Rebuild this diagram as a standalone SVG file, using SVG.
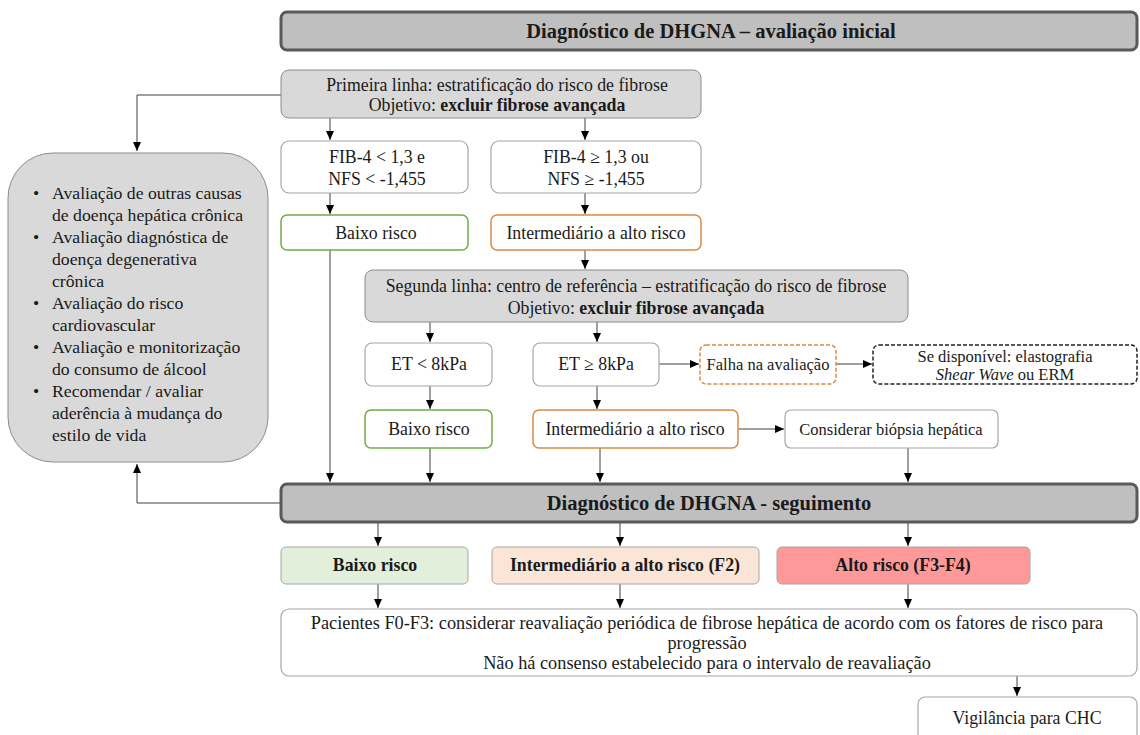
<svg xmlns="http://www.w3.org/2000/svg" width="1140" height="735" viewBox="0 0 1140 735" font-family="'Liberation Serif', serif">
<defs>
<marker id="ah" markerWidth="10" markerHeight="10" refX="9" refY="5" orient="auto" markerUnits="userSpaceOnUse">
<path d="M0,1 L9,5 L0,9 Z" fill="#000"/>
</marker>
<style>
text{font-family:'Liberation Serif',serif;font-size:17.8px;fill:#1a1a1a;text-anchor:middle}
.hd{font-weight:bold;font-size:20.5px}
.b{font-weight:bold}
.lt{text-anchor:start;font-size:17.7px}
.sm{font-size:16.5px}
.pc{font-size:18.3px}
.hdr{fill:#bfbfbf;stroke:#595959;stroke-width:3}
.gr{fill:#d9d9d9;stroke:#8c8c8c;stroke-width:1}
.wh{fill:#fff;stroke:#a6a6a6;stroke-width:1.2}
.gn{fill:#fff;stroke:#70ad47;stroke-width:1.5}
.or{fill:#fff;stroke:#d98a45;stroke-width:1.5}
.ord{fill:#fff;stroke:#d98a45;stroke-width:1.5;stroke-dasharray:4 2}
.bkd{fill:#fff;stroke:#222;stroke-width:1.5;stroke-dasharray:4 2}
.c{fill:none;stroke:#404040;stroke-width:1}
</style>
</defs>

<g id="connectors">
<path class="c" d="M281,95 H137 V151" marker-end="url(#ah)"/>
<path class="c" d="M330,118 V140" marker-end="url(#ah)"/>
<path class="c" d="M585,118 V140" marker-end="url(#ah)"/>
<path class="c" d="M330,193 V214" marker-end="url(#ah)"/>
<path class="c" d="M585,193 V214" marker-end="url(#ah)"/>
<path class="c" d="M330,250 V482" marker-end="url(#ah)"/>
<path class="c" d="M585,250 V269" marker-end="url(#ah)"/>
<path class="c" d="M430,322 V342" marker-end="url(#ah)"/>
<path class="c" d="M597,322 V342" marker-end="url(#ah)"/>
<path class="c" d="M659,364 H699" marker-end="url(#ah)"/>
<path class="c" d="M836,364 H872" marker-end="url(#ah)"/>
<path class="c" d="M430,386 V409" marker-end="url(#ah)"/>
<path class="c" d="M597,386 V409" marker-end="url(#ah)"/>
<path class="c" d="M738,429 H784" marker-end="url(#ah)"/>
<path class="c" d="M430,448 V482" marker-end="url(#ah)"/>
<path class="c" d="M600,448 V482" marker-end="url(#ah)"/>
<path class="c" d="M908,448 V482" marker-end="url(#ah)"/>
<path class="c" d="M281,503 H137 V464" marker-end="url(#ah)"/>
<path class="c" d="M378,522 V546" marker-end="url(#ah)"/>
<path class="c" d="M620,522 V546" marker-end="url(#ah)"/>
<path class="c" d="M908,522 V546" marker-end="url(#ah)"/>
<path class="c" d="M378,584 V608" marker-end="url(#ah)"/>
<path class="c" d="M620,584 V608" marker-end="url(#ah)"/>
<path class="c" d="M908,584 V608" marker-end="url(#ah)"/>
<path class="c" d="M1017,676 V696" marker-end="url(#ah)"/>
</g>

<g id="header1">
<rect class="hdr" x="281" y="12" width="856" height="38" rx="6"/>
<text class="hd" x="711" y="38">Diagnóstico de DHGNA – avaliação inicial</text>
</g>

<g id="primeira">
<rect class="gr" x="281" y="70" width="420" height="48" rx="8"/>
<text x="497" y="91">Primeira linha: estratificação do risco de fibrose</text>
<text x="497" y="111">Objetivo: <tspan class="b">excluir fibrose avançada</tspan></text>
</g>

<g id="left-box">
<rect class="gr" x="8" y="153" width="260" height="309" rx="45"/>
<text class="lt" x="33" y="199">•</text><text class="lt" x="52" y="199">Avaliação de outras causas</text>
<text class="lt" x="52" y="221">de doença hepática crônica</text>
<text class="lt" x="33" y="243">•</text><text class="lt" x="52" y="243">Avaliação diagnóstica de</text>
<text class="lt" x="52" y="265">doença degenerativa</text>
<text class="lt" x="52" y="287">crônica</text>
<text class="lt" x="33" y="309">•</text><text class="lt" x="52" y="309">Avaliação do risco</text>
<text class="lt" x="52" y="331">cardiovascular</text>
<text class="lt" x="33" y="353">•</text><text class="lt" x="52" y="353">Avaliação e monitorização</text>
<text class="lt" x="52" y="375">do consumo de álcool</text>
<text class="lt" x="33" y="397">•</text><text class="lt" x="52" y="397">Recomendar / avaliar</text>
<text class="lt" x="52" y="419">aderência à mudança do</text>
<text class="lt" x="52" y="441">estilo de vida</text>
</g>

<g id="fib-low">
<rect class="wh" x="281" y="141" width="187" height="52" rx="8"/>
<text x="377" y="163">FIB-4 &lt; 1,3 e</text>
<text x="377" y="185">NFS &lt; -1,455</text>
</g>
<g id="fib-high">
<rect class="wh" x="491" y="141" width="210" height="52" rx="8"/>
<text x="596" y="163">FIB-4 ≥ 1,3 ou</text>
<text x="596" y="185">NFS ≥ -1,455</text>
</g>

<g id="baixo1">
<rect class="gn" x="281" y="215" width="187" height="35" rx="6"/>
<text x="376" y="239">Baixo risco</text>
</g>
<g id="inter1">
<rect class="or" x="491" y="215" width="210" height="35" rx="6"/>
<text x="596" y="239">Intermediário a alto risco</text>
</g>

<g id="segunda">
<rect class="gr" x="365" y="270" width="543" height="52" rx="8"/>
<text x="636" y="292">Segunda linha: centro de referência – estratificação do risco de fibrose</text>
<text x="636" y="314">Objetivo: <tspan class="b">excluir fibrose avançada</tspan></text>
</g>

<g id="et-low">
<rect class="wh" x="365" y="343" width="127" height="43" rx="7"/>
<text x="429" y="370">ET &lt; 8kPa</text>
</g>
<g id="et-high">
<rect class="wh" x="533" y="343" width="126" height="43" rx="7"/>
<text x="596" y="370">ET ≥ 8kPa</text>
</g>
<g id="falha">
<rect class="ord" x="700" y="345" width="136" height="39" rx="6"/>
<text class="sm" x="768" y="370">Falha na avaliação</text>
</g>
<g id="shear">
<rect class="bkd" x="873" y="345" width="264" height="39" rx="6"/>
<text class="sm" x="1005" y="362">Se disponível: elastografia</text>
<text class="sm" x="1005" y="380"><tspan font-style="italic">Shear Wave</tspan> ou ERM</text>
</g>

<g id="baixo2">
<rect class="gn" x="365" y="410" width="127" height="38" rx="6"/>
<text x="429" y="435">Baixo risco</text>
</g>
<g id="inter2">
<rect class="or" x="533" y="410" width="205" height="38" rx="6"/>
<text x="635" y="435">Intermediário a alto risco</text>
</g>
<g id="biopsia">
<rect class="wh" x="785" y="410" width="213" height="38" rx="6"/>
<text class="sm" x="891" y="435">Considerar biópsia hepática</text>
</g>

<g id="header2">
<rect class="hdr" x="281" y="484" width="856" height="38" rx="6"/>
<text class="hd" x="709" y="510">Diagnóstico de DHGNA - seguimento</text>
</g>

<g id="baixo3">
<rect x="281" y="547" width="187" height="37" rx="5" fill="#e2efda" stroke="#a6a6a6"/>
<text class="b" x="375" y="571">Baixo risco</text>
</g>
<g id="inter3">
<rect x="492" y="547" width="267" height="37" rx="5" fill="#fbe5d6" stroke="#a6a6a6"/>
<text class="b" x="625" y="571">Intermediário a alto risco (F2)</text>
</g>
<g id="alto3">
<rect x="777" y="547" width="253" height="37" rx="5" fill="#ff9999" stroke="#a6a6a6"/>
<text class="b" x="903" y="571">Alto risco (F3-F4)</text>
</g>

<g id="pacientes">
<rect class="wh" x="281" y="609" width="856" height="67" rx="8"/>
<text class="pc" x="707" y="629">Pacientes F0-F3: considerar reavaliação periódica de fibrose hepática de acordo com os fatores de risco para</text>
<text class="pc" x="707" y="649">progressão</text>
<text class="pc" x="707" y="669">Não há consenso estabelecido para o intervalo de reavaliação</text>
</g>

<g id="vigilancia">
<rect class="wh" x="918" y="697" width="219" height="45" rx="7"/>
<text x="1027" y="724">Vigilância para CHC</text>
</g>
</svg>
